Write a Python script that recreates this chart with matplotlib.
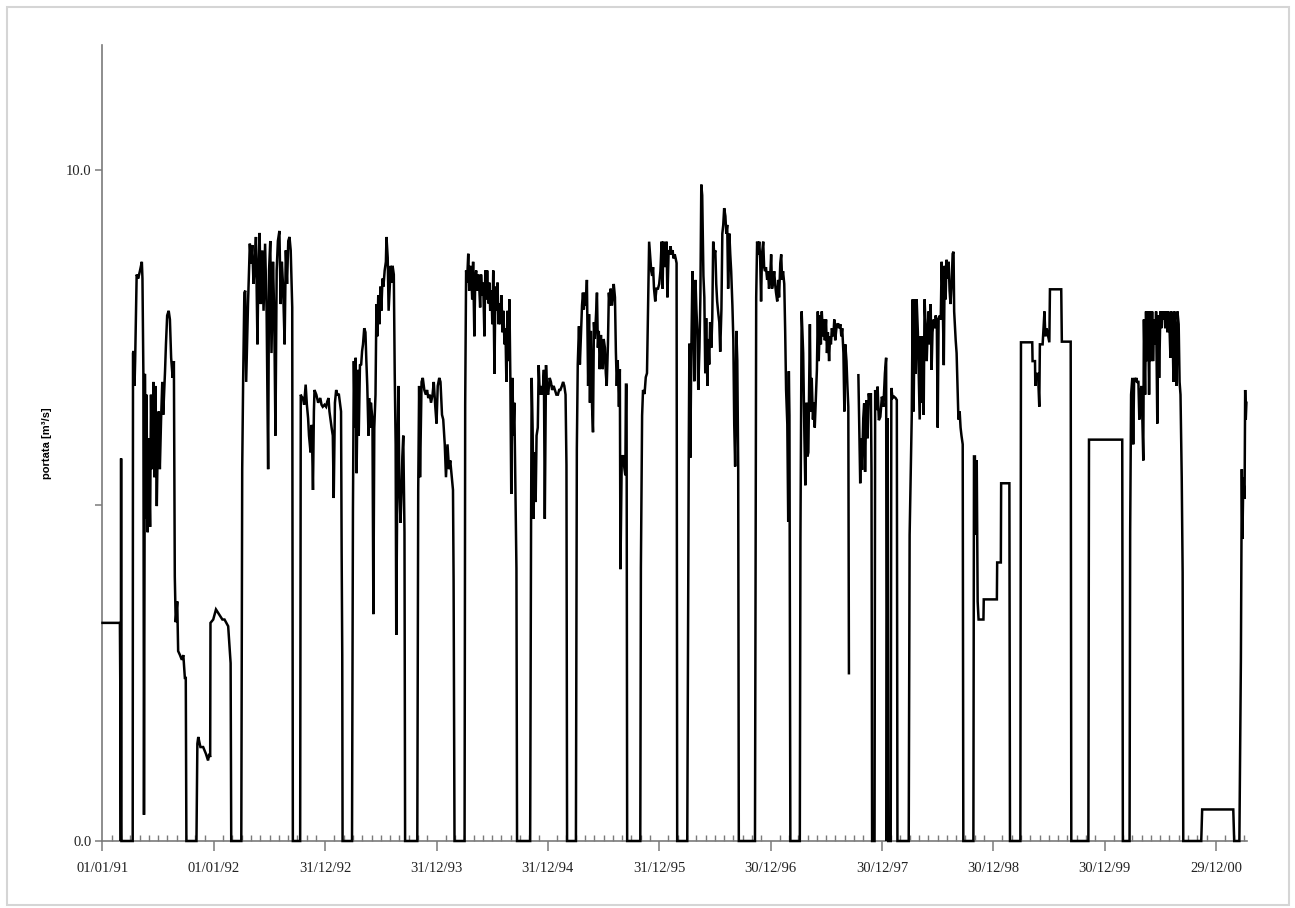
import numpy as np
import pandas as pd
import matplotlib
matplotlib.use("Agg")
import matplotlib.pyplot as plt
from matplotlib.patches import Rectangle
from matplotlib.ticker import FixedLocator, MultipleLocator

# portata giornaliera, giorni contati dal 01/01/1991
d91a = [0, 57, 59, 60, 61, 62]
q91a = [3.25, 3.25, 1.8, 0, 5.7, 0]

d91b = [99, 100, 102, 105, 107, 112, 117, 123, 129, 131, 134, 136, 139, 142, 144, 148, 151, 156, 159, 162,
        167, 170, 173, 178, 181, 184, 188, 192, 196, 199, 205, 208, 212, 217, 221, 225, 230, 234, 237, 240,
        245, 248, 254, 260, 265, 270, 273, 275]
q91b = [0, 7.27, 7.3, 6.78, 7.15, 8.44, 8.38, 8.5, 8.63, 8.38, 6.96, 0.39, 6.96, 4.8, 6.65, 4.6, 6.0, 4.68, 6.65, 5.54,
        6.84, 5.42, 6.78, 4.99, 5.9, 6.4, 5.54, 6.28, 6.84, 6.35, 7.0, 7.4, 7.83, 7.9, 7.77, 7.2, 6.9, 7.15, 3.94, 3.26,
        3.57, 2.83, 2.77, 2.7, 2.77, 2.43, 2.43, 0]

d91c = [308, 311, 314, 321, 330, 339, 346, 350, 353, 354, 363, 372, 379, 386, 393, 400, 406, 412, 415, 420, 422]
q91c = [0, 1.45, 1.55, 1.4, 1.4, 1.3, 1.2, 1.3, 1.25, 3.25, 3.3, 3.45, 3.4, 3.35, 3.3, 3.3, 3.25, 3.2, 3.0, 2.65, 0]

d92a = [455, 458, 461, 465, 468, 471, 477, 483, 487, 491, 495, 499, 503, 508, 511, 515, 519, 524, 528, 533,
        538, 543, 546, 550, 554, 559, 563, 567, 571, 575, 580, 584, 588, 592, 597, 601, 605, 609, 613, 617,
        622, 624]
q92a = [0, 5.54, 6.84, 8.17, 8.2, 6.84, 8.0, 8.9, 8.6, 8.88, 8.3, 8.57, 9.0, 7.4, 8.5, 9.06, 8.0, 8.8, 7.9, 8.9,
        7.9, 5.54, 8.5, 8.94, 7.27, 8.63, 7.83, 6.04, 8.5, 8.94, 9.09, 8.0, 8.63, 8.26, 7.4, 8.8, 8.3, 8.94, 9.0, 8.8,
        7.95, 0]

d92b = [648, 650, 654, 657, 661, 666, 670, 674, 677, 682, 686, 690, 693, 695, 701, 707, 714, 718, 722, 728,
        733, 737, 741, 744, 751, 755, 758, 762, 766, 770, 775, 779, 782, 784, 786, 787]
q92b = [0, 6.65, 6.6, 6.6, 6.5, 6.8, 6.5, 6.3, 6.04, 5.79, 6.2, 5.23, 6.4, 6.72, 6.65, 6.53, 6.6, 6.5, 6.47, 6.5,
        6.47, 6.55, 6.6, 6.4, 6.16, 6.04, 5.11, 6.53, 6.72, 6.65, 6.65, 6.5, 6.4, 4.3, 2.77, 0]

d93a = [818, 821, 824, 827, 830, 833, 837, 840, 844, 848, 851, 854, 858, 862, 865, 868, 872, 874, 877, 880,
        885, 888, 891, 895, 898, 901, 904, 908, 911, 914, 918, 921, 925, 929, 931, 935, 938, 941, 945, 948,
        951, 955, 958, 961, 963, 967, 970, 973, 977, 980, 983, 986, 990, 992]
q93a = [0, 4.93, 7.15, 6.16, 7.2, 5.48, 7.02, 6.04, 7.09, 7.1, 7.3, 7.4, 7.64, 7.58, 7.15, 6.78, 6.04, 6.6, 6.16, 6.53,
        6.28, 3.38, 6.16, 6.65, 8.0, 7.52, 8.13, 7.7, 8.26, 7.9, 8.38, 8.26, 8.5, 8.63, 9.0, 8.69, 7.9, 8.2, 8.57, 8.32,
        8.57, 8.44, 6.96, 5.91, 3.07, 5.73, 6.78, 5.3, 4.74, 5.17, 5.73, 6.04, 4.6, 0]

d93b = [1032, 1035, 1038, 1041, 1046, 1050, 1055, 1060, 1064, 1068, 1073, 1077, 1082, 1086, 1091, 1095, 1099,
        1104, 1108, 1113, 1117, 1122, 1126, 1131, 1136, 1140, 1145, 1149, 1151, 1154]
q93b = [0, 5.23, 6.78, 5.42, 6.84, 6.9, 6.72, 6.65, 6.72, 6.6, 6.65, 6.53, 6.65, 6.84, 6.47, 6.22, 6.78,
        6.9, 6.84, 6.35, 6.28, 5.91, 5.42, 5.91, 5.54, 5.67, 5.42, 5.23, 3.88, 0]

d94a = [1187, 1189, 1192, 1195, 1199, 1202, 1206, 1209, 1212, 1215, 1219, 1222, 1225, 1228, 1232, 1235, 1238,
        1241, 1245, 1248, 1252, 1255, 1258, 1261, 1265, 1268, 1271, 1275, 1278, 1281, 1285, 1288, 1291, 1295,
        1298, 1301, 1304, 1308, 1311, 1314, 1318, 1321, 1324, 1328, 1331, 1334, 1337, 1340, 1344, 1347, 1350,
        1353, 1357, 1359]
q94a = [0, 6.5, 8.5, 8.32, 8.75, 8.2, 8.57, 8.44, 8.07, 8.63, 7.52, 8.38, 8.5, 8.2, 8.44, 8.26, 7.95,
        8.44, 8.13, 8.32, 7.52, 8.5, 8.07, 8.5, 8.01, 8.32, 7.9, 8.2, 7.7, 8.5, 6.96, 8.26, 7.9, 8.32,
        7.7, 8.01, 7.7, 8.13, 7.58, 7.9, 7.4, 7.64, 6.84, 7.9, 7.15, 8.07, 6.9, 5.17, 6.9, 6.04, 6.53,
        5.42, 4.06, 0]

d94b = [1402, 1405, 1407, 1410, 1413, 1417, 1420, 1423, 1427, 1430, 1433, 1436, 1440, 1443, 1447, 1450, 1454,
        1457, 1461, 1466, 1470, 1474, 1479, 1483, 1488, 1493, 1497, 1501, 1506, 1510, 1514, 1518, 1521, 1523]
q94b = [0, 4.8, 6.9, 6.16, 4.8, 5.79, 5.05, 6.04, 6.16, 7.09, 6.72, 6.65, 6.78, 6.65, 7.02, 4.8, 7.09,
        6.72, 6.65, 6.9, 6.84, 6.72, 6.78, 6.72, 6.65, 6.65, 6.72, 6.72, 6.78, 6.84, 6.78, 6.65, 5.6, 0]

d95a = [1552, 1555, 1558, 1562, 1565, 1568, 1572, 1575, 1578, 1582, 1585, 1588, 1592, 1595, 1598, 1601, 1605,
        1608, 1611, 1614, 1618, 1621, 1624, 1627, 1630, 1634, 1637, 1640, 1643, 1647, 1650, 1653, 1657, 1660,
        1663, 1666, 1670, 1673, 1676, 1680, 1683, 1686, 1689, 1693, 1696, 1698, 1702, 1706, 1711, 1714, 1716,
        1718, 1720]
q95a = [0, 5.84, 7.1, 7.67, 7.1, 7.48, 7.98, 8.17, 7.92, 8.17, 7.98, 8.36, 6.78, 7.85, 6.53, 7.6, 6.47,
        6.09, 7.73, 7.48, 7.85, 8.17, 7.35, 7.6, 7.03, 7.54, 7.22, 7.03, 7.48, 7.35, 6.97, 6.78, 7.41, 8.17,
        7.98, 8.23, 7.98, 8.1, 8.3, 8.1, 7.29, 6.78, 7.16, 6.47, 7.03, 4.05, 5.6, 5.75, 5.55, 5.45, 6.8,
        6.8, 0]

d95b = [1763, 1765, 1769, 1772, 1777, 1781, 1785, 1789, 1792, 1795, 1799, 1802, 1805, 1808, 1812, 1816, 1821,
        1825, 1829, 1833, 1836, 1839, 1843, 1846, 1849, 1852, 1856, 1859, 1862, 1866, 1869, 1872, 1876, 1879,
        1882, 1884]
q95b = [0, 4.07, 6.34, 6.72, 6.66, 6.91, 6.97, 8.1, 8.93, 8.74, 8.49, 8.42, 8.55, 8.23, 8.04, 8.23, 8.23,
        8.3, 8.49, 8.93, 8.23, 8.93, 8.55, 8.74, 8.93, 8.1, 8.8, 8.74, 8.86, 8.74, 8.8, 8.68, 8.74, 8.68,
        8.61, 0]

d96a = [1917, 1920, 1922, 1924, 1927, 1930, 1934, 1937, 1940, 1944, 1947, 1950, 1953, 1957, 1960, 1963, 1966,
        1970, 1973, 1976, 1979, 1983, 1986, 1989, 1992, 1996, 1999, 2002, 2006, 2009, 2012, 2015, 2019, 2022,
        2025, 2029, 2032, 2035, 2038, 2042, 2045, 2048, 2051, 2055, 2058, 2061, 2065, 2068, 2071, 2074, 2078,
        2081, 2084, 2086]
q96a = [0, 3.56, 5.9, 7.41, 5.71, 7.16, 8.49, 7.98, 6.85, 8.36, 7.92, 7.6, 6.72, 7.35, 8.1, 9.78, 9.62,
        8.42, 8.1, 6.97, 7.79, 6.78, 7.48, 7.1, 7.73, 7.35, 7.79, 8.93, 8.74, 8.8, 8.3, 8.04, 7.85, 7.73,
        7.29, 7.92, 9.05, 9.18, 9.43, 9.31, 9.05, 9.18, 8.23, 9.05, 8.74, 8.49, 7.98, 7.48, 6.21, 5.58, 7.6,
        7.16, 5.58, 0]

d96b = [2139, 2143, 2146, 2149, 2153, 2156, 2159, 2162, 2166, 2169, 2172, 2175, 2179, 2182, 2185, 2189, 2192,
        2195, 2199, 2202, 2205, 2208, 2212, 2215, 2218, 2222, 2225, 2228, 2231, 2235, 2238, 2241, 2245, 2248,
        2250, 2252, 2255]
q96b = [0, 8.1, 8.93, 8.74, 8.93, 8.68, 8.04, 8.74, 8.93, 8.55, 8.49, 8.55, 8.36, 8.49, 8.23, 8.42, 8.74,
        8.23, 8.36, 8.49, 8.3, 8.17, 8.04, 8.36, 8.1, 8.61, 8.74, 8.36, 8.49, 8.3, 7.6, 6.72, 6.21, 4.76,
        7.0, 6.34, 0]

# dopo il 2447 manca il dato (buco nella serie)
d97a = [2286, 2288, 2292, 2297, 2301, 2304, 2308, 2311, 2314, 2319, 2322, 2325, 2329, 2332, 2335, 2338, 2342,
        2345, 2348, 2352, 2355, 2358, 2362, 2365, 2368, 2372, 2375, 2378, 2382, 2385, 2388, 2391, 2396, 2399,
        2402, 2406, 2409, 2412, 2415, 2419, 2422, 2425, 2429, 2432, 2435, 2439, 2442, 2445, 2447, 2448]
q97a = [0, 4.5, 7.89, 7.27, 6.04, 5.3, 6.53, 5.73, 5.79, 7.7, 6.4, 6.9, 6.28, 6.53, 6.16, 6.53, 7.02,
        7.89, 7.15, 7.83, 7.4, 7.89, 7.52, 7.77, 7.46, 7.77, 7.27, 7.58, 7.15, 7.52, 7.4, 7.64, 7.52, 7.77,
        7.46, 7.64, 7.7, 7.7, 7.64, 7.7, 7.52, 7.64, 7.27, 6.4, 7.4, 7.15, 6.78, 6.47, 2.5, np.nan]

d97b = [2478, 2481, 2484, 2487, 2490, 2494, 2497, 2500, 2504, 2508, 2512, 2516, 2519, 2521, 2523, 2531, 2533,
        2537, 2541, 2545, 2550, 2555, 2560, 2565, 2569, 2571, 2574, 2576, 2584, 2586, 2590, 2595, 2600, 2604,
        2606]
q97b = [6.94, 6.17, 5.33, 6.0, 5.53, 6.3, 6.52, 5.5, 6.57, 6.0, 6.67, 6.5, 6.67, 5.5, 0, 0, 6.72,
        6.42, 6.77, 6.27, 6.32, 6.62, 6.47, 6.97, 7.2, 0, 6.3, 0, 0, 6.75, 6.6, 6.62, 6.6, 6.57,
        0]

d98a = [2643, 2646, 2650, 2653, 2656, 2659, 2663, 2666, 2669, 2673, 2676, 2679, 2682, 2686, 2689, 2692, 2695,
        2699, 2702, 2705, 2708, 2712, 2715, 2718, 2721, 2725, 2728, 2731, 2735, 2738, 2741, 2745, 2748, 2751,
        2754, 2758, 2761, 2764, 2767, 2771, 2774, 2777, 2780, 2784, 2787, 2790, 2792, 2797, 2800, 2803, 2806,
        2810, 2813, 2816, 2820, 2822]
q98a = [0, 4.56, 5.54, 6.35, 8.07, 6.4, 8.07, 6.96, 8.07, 7.58, 6.96, 6.28, 7.52, 6.53, 7.52, 6.35, 8.07,
        7.58, 7.15, 7.58, 7.89, 7.4, 8.0, 7.02, 7.58, 7.77, 7.64, 7.83, 7.77, 6.16, 7.77, 7.83, 7.77, 8.63,
        8.13, 7.09, 8.57, 8.07, 8.66, 8.38, 8.63, 8.2, 8.0, 8.32, 8.75, 8.78, 7.89, 7.46, 7.27, 6.78, 6.28,
        6.4, 6.16, 6.04, 5.91, 0]

d98b = [2855, 2857, 2860, 2863, 2866, 2869, 2872, 2888, 2889, 2932, 2933, 2945, 2946, 2973, 2975]
q98b = [0, 5.73, 5.73, 4.56, 5.67, 3.57, 3.3, 3.3, 3.6, 3.6, 4.15, 4.15, 5.33, 5.33, 0]

d99a = [3009, 3011, 3048, 3049, 3057, 3058, 3060, 3067, 3071, 3073, 3082, 3088, 3091, 3095, 3104, 3106, 3143,
        3145, 3174, 3176]
q99a = [0, 7.43, 7.43, 7.15, 7.15, 6.78, 6.96, 6.96, 6.47, 7.4, 7.4, 7.89, 7.52, 7.64, 7.43, 8.22, 8.22,
        7.44, 7.44, 0]

d99b = [3232, 3234, 3343, 3345]
q99b = [0, 5.98, 5.98, 0]

d00a = [3367, 3369, 3372, 3376, 3379, 3382, 3386, 3389, 3392, 3396, 3399, 3402, 3406, 3409, 3412, 3414, 3418,
        3421, 3424, 3428, 3431, 3434, 3438, 3441, 3444, 3448, 3451, 3454, 3458, 3461, 3464, 3468, 3471, 3474,
        3478, 3481, 3484, 3488, 3491, 3494, 3498, 3501, 3504, 3508, 3511, 3514, 3518, 3521, 3524, 3528, 3531,
        3534, 3538, 3541, 3543]
q00a = [0, 4.62, 6.65, 6.9, 5.91, 6.9, 6.84, 6.9, 6.84, 6.84, 6.28, 6.65, 6.78, 6.28, 5.67, 7.77, 6.65,
        7.89, 7.15, 7.89, 6.65, 7.89, 7.15, 7.89, 7.15, 7.77, 7.4, 7.89, 6.22, 7.83, 6.9, 7.89, 7.64, 7.89,
        7.77, 7.89, 7.64, 7.89, 7.58, 7.89, 7.64, 7.2, 7.89, 7.58, 6.84, 7.89, 7.4, 6.78, 7.89, 7.7, 6.84,
        6.65, 5.42, 4.0, 0]

d00b = [3602, 3605, 3707, 3710]
q00b = [0, 0.47, 0.47, 0]

d00c = [3727, 3732, 3735, 3737, 3740, 3744, 3746, 3748, 3750]
q00c = [0, 2.7, 5.54, 4.5, 5.42, 5.1, 6.72, 6.28, 6.53]

blocchi = [(d91a, q91a), (d91b, q91b), (d91c, q91c), (d92a, q92a), (d92b, q92b), (d93a, q93a),
           (d93b, q93b), (d94a, q94a), (d94b, q94b), (d95a, q95a), (d95b, q95b), (d96a, q96a),
           (d96b, q96b), (d97a, q97a), (d97b, q97b), (d98a, q98a), (d98b, q98b), (d99a, q99a),
           (d99b, q99b), (d00a, q00a), (d00b, q00b), (d00c, q00c)]

giorni = np.concatenate([np.array(d, dtype=float) for d, q in blocchi])
portata = np.concatenate([np.array(q, dtype=float) for d, q in blocchi])

inizio = pd.Timestamp("1991-01-01")
tick_giorni = np.arange(0, 3651, 365)
tick_label = [(inizio + pd.Timedelta(days=int(g))).strftime("%d/%m/%y") for g in tick_giorni]

W, H = 1295, 908
fig = plt.figure(figsize=(W / 100, H / 100), dpi=100)
ax = fig.add_axes([102.5 / W, 1 - 841 / H, (1247 - 102.5) / W, (841 - 45) / H])

ax.plot(giorni, portata, color="black", lw=1.8, clip_on=False, zorder=3, solid_joinstyle="miter")

ax.set_xlim(0, 3752)
ax.set_ylim(0, 11.86)

grigio = "#7a7a7a"
for s in ["top", "right"]:
    ax.spines[s].set_visible(False)
for s in ["left", "bottom"]:
    ax.spines[s].set_color(grigio)
    ax.spines[s].set_linewidth(1.2)

ax.xaxis.set_major_locator(FixedLocator(tick_giorni))
ax.set_xticklabels(tick_label)
ax.xaxis.set_minor_locator(MultipleLocator(365 / 12))
ax.tick_params(axis="x", which="major", direction="out", length=7, width=1.1, color=grigio, pad=8)
ax.tick_params(axis="x", which="minor", direction="in", length=4, width=1.0, color=grigio)

ax.set_yticks([0, 5, 10])
ax.set_yticklabels(["0.0", "", "10.0"])
ax.tick_params(axis="y", which="major", direction="out", length=5, width=1.1, color=grigio, pad=3)

for lab in ax.get_xticklabels() + ax.get_yticklabels():
    lab.set_fontfamily("Liberation Serif")
    lab.set_fontsize(10.5)
    lab.set_color("#222222")

ax.set_ylabel("portata [m³/s]", fontsize=8, fontweight="bold", family="Liberation Sans")
ax.yaxis.set_label_coords(-(102.5 - 52) / (1247 - 102.5), 0.5)

# cornice grigia esterna
fig.add_artist(Rectangle((7 / W, 1 - 905 / H), (1289 - 7) / W, (905 - 7) / H,
                         transform=fig.transFigure, fill=False, ec="#d5d5d5", lw=1.5))

fig.savefig("out.png", dpi=100)
